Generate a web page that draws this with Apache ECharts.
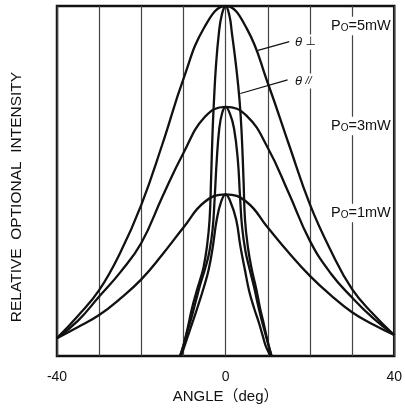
<!DOCTYPE html>
<html>
<head>
<meta charset="utf-8">
<script src="https://cdn.jsdelivr.net/npm/echarts@6/dist/echarts.min.js"></script>
<style>
  html, body { margin: 0; padding: 0; background: #fff; }
  #chart { width: 405px; height: 409px; }
</style>
</head>
<body>
<div id="chart"></div>
<script>
// Far-field pattern of a laser diode: relative intensity vs. angle
// θ⊥ (wide) and θ// (narrow) beams at three output powers.

const angleTicks = [-40, 0, 40];

// θ⊥ (perpendicular) curves, [angle deg, relative intensity]
const perp5mW = [[-40, 5.1], [-35, 11.5], [-30, 18.8], [-25, 29.5], [-20, 43.2], [-15, 60.5], [-10, 79.2], [-5, 94], [0, 100],
                 [5, 93.6], [10, 78], [15, 60.5], [20, 43.3], [25, 30], [30, 19.1], [35, 12], [40, 6]];
const perp3mW = [[-40, 5.1], [-35, 10.1], [-30, 17], [-25, 23.9], [-20, 32.3], [-15, 45.5], [-10, 58], [-5, 68.2], [0, 71.2],
                 [5, 68.6], [10, 59.5], [15, 46.5], [20, 32.9], [25, 23.5], [30, 16.7], [35, 10.8], [40, 6]];
const perp1mW = [[-40, 5.1], [-35, 8.3], [-30, 11.7], [-25, 16.4], [-20, 21.9], [-15, 29], [-10, 36.7], [-5, 44], [0, 46.2],
                 [5, 44], [10, 36.7], [15, 29.5], [20, 22.9], [25, 17.3], [30, 12.5], [35, 9], [40, 6]];

// θ// (parallel) curves, [angle deg, relative intensity]
const par5mW = [[-10.8, 0], [-10, 3], [-9, 8], [-8, 13.5], [-7, 18], [-6, 22], [-5.2, 25.5], [-4.4, 31.5],
                [-3.8, 39], [-3.45, 50.4], [-3.1, 63.8], [-2.75, 73.2], [-2.3, 82.7], [-1.6, 92.2], [-0.9, 97.5], [0, 100],
                [0.9, 97.3], [1.5, 92.2], [2.5, 82.7], [3.3, 73.2], [3.8, 63.8], [4.25, 50.4], [4.6, 39], [5.3, 31],
                [6.2, 24.8], [7.3, 19], [8.2, 13.5], [9, 9.5], [10, 4], [10.9, 0]];
const par3mW = [[-10.8, 0], [-10, 3], [-9, 7.3], [-8.2, 10.5], [-7, 16], [-6, 20.5], [-4.9, 24.8], [-3.9, 29.5],
                [-3.1, 36], [-2.6, 45], [-2.1, 56], [-1.5, 65], [-0.8, 69.5], [0, 71.2],
                [1, 69.3], [2.0, 65], [2.9, 56], [3.4, 46], [3.9, 37], [4.7, 30], [5.7, 24.8], [6.7, 20], [7.6, 15], [8.5, 10.5],
                [9.4, 6.5], [10.2, 3], [10.9, 0]];
const par1mW = [[-10.6, 0], [-10, 2], [-9, 5.5], [-8.3, 8], [-7.6, 10.5], [-6.5, 14.5], [-5.2, 19.5], [-4, 24.8], [-3, 31.5],
                [-2.1, 39], [-1, 44.3], [0, 46.2],
                [1, 44.5], [2.5, 39], [3.5, 31.4], [4.6, 24.5], [5.6, 18.5], [6.8, 13.5], [7.9, 9.5], [8.8, 5.8], [9.6, 2.6], [10.7, 0]];

const powerLabels = ['5mW', '3mW', '1mW'];
const powerLabelY = [26, 126, 213];

const FONT = '"Liberation Sans", Arial, Helvetica, "Noto Sans CJK JP", sans-serif';
const INK = '#111';

const chart = echarts.init(document.getElementById('chart'), null, { renderer: 'canvas' });

function curve(name, data) {
  return {
    name: name,
    type: 'line',
    data: data,
    smooth: 0.45,
    symbol: 'none',
    lineStyle: { color: INK, width: 2.3 },
    silent: true,
    z: 3
  };
}

chart.setOption({
  animation: false,
  backgroundColor: '#fff',
  grid: {
    left: 57, right: 5, top: 6, bottom: 52,
    show: true, borderColor: INK, borderWidth: 2.5, backgroundColor: 'transparent'
  },
  xAxis: {
    type: 'value', min: -40, max: 40, interval: 10,
    axisLine: { show: false },
    axisTick: { show: false },
    splitLine: { show: true, lineStyle: { color: '#444', width: 1.2 } },
    axisLabel: {
      margin: 14, color: INK, fontSize: 14, fontFamily: FONT,
      formatter: function (v) { return angleTicks.indexOf(v) >= 0 ? String(v) : ''; }
    },
    name: 'ANGLE（deg）', nameLocation: 'middle', nameGap: 33,
    nameTextStyle: { color: INK, fontSize: 15, fontFamily: FONT }
  },
  yAxis: {
    type: 'value', min: 0, max: 100,
    axisLine: { show: false }, axisTick: { show: false },
    axisLabel: { show: false }, splitLine: { show: false }
  },
  series: [
    curve('θ⊥ 5mW', perp5mW), curve('θ⊥ 3mW', perp3mW), curve('θ⊥ 1mW', perp1mW),
    curve('θ// 5mW', par5mW), curve('θ// 3mW', par3mW), curve('θ// 1mW', par1mW)
  ]
});

// Annotations: leader lines from the 5 mW curves to their labels
const p = (pt) => chart.convertToPixel({ gridIndex: 0 }, pt);
const perpA = p([7.7, 87.3]), perpB = p([15.1, 89.8]);
const parA = p([3.5, 75]), parB = p([14.7, 78.9]);

const graphics = [
  {
    type: 'text', x: 17, y: 197, rotation: Math.PI / 2,
    style: { text: 'RELATIVE  OPTIONAL  INTENSITY', font: '15.5px ' + FONT, fill: INK, align: 'center', verticalAlign: 'middle' }
  },
  { type: 'line', shape: { x1: perpA[0], y1: perpA[1], x2: perpB[0], y2: perpB[1] }, style: { stroke: INK, lineWidth: 1.2 }, z: 10 },
  { type: 'line', shape: { x1: parA[0], y1: parA[1], x2: parB[0], y2: parB[1] }, style: { stroke: INK, lineWidth: 1.2 }, z: 10 },
  {
    type: 'text', x: 294, y: 42, z: 11,
    style: {
      text: '{t|θ} {s|⊥}', verticalAlign: 'middle', backgroundColor: '#fff', padding: [1, 1],
      rich: {
        t: { font: 'italic 13px ' + FONT, fill: INK },
        s: { font: '12px "DejaVu Sans", ' + FONT, fill: INK }
      }
    }
  },
  {
    type: 'text', x: 294, y: 81, z: 11,
    style: {
      text: '{t|θ} {s|//}', verticalAlign: 'middle', backgroundColor: '#fff', padding: [1, 1],
      rich: {
        t: { font: 'italic 13px ' + FONT, fill: INK },
        s: { font: 'italic 11px ' + FONT, fill: INK }
      }
    }
  }
];

powerLabels.forEach(function (lab, i) {
  graphics.push({
    type: 'text', x: 330, y: powerLabelY[i], z: 11,
    style: {
      text: '{p|P}{o|O}{p|=' + lab + '}', verticalAlign: 'middle', backgroundColor: '#fff', padding: [2, 1],
      rich: {
        p: { font: '14.5px ' + FONT, fill: INK, verticalAlign: 'bottom' },
        o: { font: '10px ' + FONT, fill: INK, verticalAlign: 'bottom' }
      }
    }
  });
});

chart.setOption({ graphic: graphics });
</script>
</body>
</html>
